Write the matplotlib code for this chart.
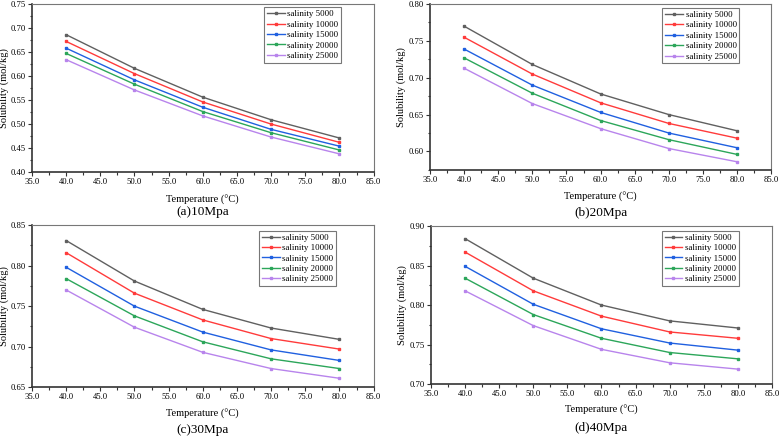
import matplotlib
matplotlib.use("Agg")
import matplotlib.pyplot as plt
from matplotlib.ticker import MultipleLocator

plt.rcParams['font.family'] = ['Liberation Serif', 'DejaVu Serif']

# temperature (°C)
temps = [40, 50, 60, 70, 80]
salinities = ["salinity 5000", "salinity 10000", "salinity 15000",
              "salinity 20000", "salinity 25000"]
colors = ["#606060", "#ff3b3b", "#2060e0", "#2ca65a", "#b884ec"]

# solubility (mol/kg), one list per salinity
p10 = [
    [0.686, 0.616, 0.556, 0.509, 0.471],
    [0.672, 0.605, 0.546, 0.500, 0.462],
    [0.658, 0.592, 0.535, 0.489, 0.454],
    [0.647, 0.583, 0.526, 0.482, 0.446],
    [0.634, 0.571, 0.517, 0.473, 0.438],
]
p20 = [
    [0.770, 0.718, 0.678, 0.650, 0.628],
    [0.755, 0.705, 0.666, 0.638, 0.618],
    [0.739, 0.690, 0.653, 0.625, 0.605],
    [0.727, 0.679, 0.642, 0.616, 0.596],
    [0.713, 0.665, 0.631, 0.604, 0.586],
]
p30 = [
    [0.831, 0.781, 0.746, 0.723, 0.709],
    [0.816, 0.766, 0.733, 0.710, 0.697],
    [0.798, 0.750, 0.718, 0.696, 0.683],
    [0.784, 0.738, 0.706, 0.685, 0.673],
    [0.770, 0.724, 0.693, 0.673, 0.661],
]
p40 = [
    [0.884, 0.834, 0.800, 0.780, 0.771],
    [0.867, 0.818, 0.786, 0.766, 0.758],
    [0.849, 0.801, 0.770, 0.752, 0.743],
    [0.834, 0.788, 0.758, 0.740, 0.732],
    [0.818, 0.774, 0.744, 0.727, 0.719],
]

panels = [
    # data, ylim, axes rect, legend anchor, caption, caption y, ylabel x
    (p10, (0.40, 0.75), [0.041, 0.607, 0.438, 0.384], (0.905, 0.98), "(a)10Mpa", 0.516, -0.08),
    (p20, (0.575, 0.80), [0.551, 0.612, 0.438, 0.379], (0.906, 0.975), "(b)20Mpa", 0.513, -0.084),
    (p30, (0.65, 0.85), [0.041, 0.116, 0.438, 0.370], (0.89, 0.965), "(c)30Mpa", 0.018, -0.08),
    (p40, (0.70, 0.90), [0.5526, 0.123, 0.437, 0.361], (0.903, 0.97), "(d)40Mpa", 0.023, -0.084),
]

fig = plt.figure(figsize=(7.8, 4.38), dpi=100)

for data, ylim, rect, anchor, caption, cy, ylx in panels:
    ax = fig.add_axes(rect)
    for vals, lab, c in zip(data, salinities, colors):
        ax.plot(temps, vals, '-s', color=c, lw=1.0, ms=2, label=lab)
    ax.set_xlim(35, 85)
    ax.set_ylim(*ylim)
    ax.xaxis.set_major_locator(MultipleLocator(5))
    ax.xaxis.set_minor_locator(MultipleLocator(2.5))
    ax.yaxis.set_major_locator(MultipleLocator(0.05))
    ax.yaxis.set_minor_locator(MultipleLocator(0.025))
    ax.set_xticklabels([f"{t:.1f}" for t in ax.get_xticks()])
    ax.set_yticklabels([f"{t:.2f}" for t in ax.get_yticks()])
    ax.tick_params(which='both', direction='out', labelsize=6.2, width=0.8, color='#333333')
    ax.tick_params(which='major', length=3, pad=1.5)
    ax.tick_params(which='minor', length=1.8)
    for s in ['left', 'bottom']:
        ax.spines[s].set_linewidth(1.2)
        ax.spines[s].set_color('#333333')
    for s in ['top', 'right']:
        ax.spines[s].set_linewidth(0.8)
        ax.spines[s].set_color('#777777')
    ax.set_xlabel("Temperature (\u00b0C)", fontsize=7.5, va='center')
    ax.xaxis.set_label_coords(0.5, -0.165)
    ax.set_ylabel("Solubility (mol/kg)", fontsize=7.5, va='center')
    ax.yaxis.set_label_coords(ylx, 0.5)
    leg = ax.legend(loc='upper right', bbox_to_anchor=anchor, fontsize=6.4,
                    frameon=True, fancybox=False, borderpad=0.3, borderaxespad=0,
                    labelspacing=0.25, handlelength=2.0, handletextpad=0.3)
    leg.get_frame().set_edgecolor('#555555')
    leg.get_frame().set_linewidth(0.8)
    fig.text(rect[0] + rect[2] / 2, cy, caption, ha='center', va='center', fontsize=9.5)

fig.savefig("out.png", dpi=100)
